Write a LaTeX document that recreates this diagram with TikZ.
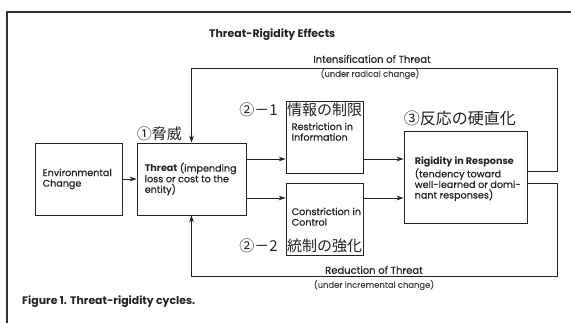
\documentclass[tikz,border=0pt]{standalone}
\usepackage{fontspec}
\setmainfont{Poppins}[UprightFeatures={FakeBold=0.6}]
\newfontfamily\jp{Noto Sans CJK JP}
\usetikzlibrary{arrows.meta,positioning}
\definecolor{inkc}{HTML}{222222}
\definecolor{subc}{HTML}{444444}
\definecolor{framec}{HTML}{333333}
\tikzset{
  ar/.style={-{Stealth[length=2.5mm,width=1.7mm]},line width=0.9pt,inkc},
  box/.style={draw=inkc,line width=0.9pt,inner sep=0pt},
  txt/.style={inkc,font=\fontsize{9.6}{10.6}\selectfont,align=left,inner sep=0pt},
  hd/.style={inkc,font=\bfseries\fontsize{10.9}{11}\selectfont,inner sep=0pt,anchor=west},
  jtxt/.style={inkc,font=\jp\fontsize{15}{15}\selectfont,inner sep=0pt},
  lbl/.style={inkc,font=\fontsize{10}{10}\selectfont,inner sep=0pt},
  sub/.style={subc,font=\fontsize{8.4}{9}\selectfont,inner sep=0pt}
}
\begin{document}
\begin{tikzpicture}[x=1pt,y=-1pt]
\useasboundingbox (0,0) rectangle (571,323);
\draw[line width=2.6pt,framec] (7,323)--(7,12)--(571,12);
\node[hd] (title) at (209,35) {Threat-Rigidity Effects};
% boxes
\node[box,minimum width=87pt,minimum height=72pt] (env) at (78.5,179) {};
\node[box,minimum width=109pt,minimum height=72pt] (threat) at (191.5,179) {};
\node[box,minimum width=77pt,minimum height=72pt] (info) at (324.5,137) {};
\node[box,minimum width=77pt,minimum height=72pt] (ctrl) at (324.5,219) {};
\node[box,minimum width=123pt,minimum height=92pt] (rig) at (465.5,177) {};
% box texts
\node[txt,anchor=west] (envt) at ([xshift=8pt]env.west) {Environmental\\Change};
\node[txt,anchor=west] (threatt) at ([xshift=8pt]threat.west) {\textbf{Threat} (impending\\loss or cost to the\\entity)};
\node[jtxt,anchor=north] (infoj) at ([yshift=-2pt]info.north) {情報の制限};
\node[txt,anchor=north west] (infot) at ([xshift=6pt,yshift=-22pt]info.north west) {Restriction in\\Information};
\node[jtxt,anchor=south] (ctrlj) at ([yshift=2pt]ctrl.south) {統制の強化};
\node[txt,anchor=north west] (ctrlt) at ([xshift=6pt,yshift=-25pt]ctrl.north west) {Constriction in\\Control};
\node[txt,anchor=west] (rigt) at ([xshift=11pt,yshift=-2pt]rig.west) {\textbf{Rigidity in Response}\\(tendency toward\\well-learned or domi-\\nant responses)};
% japanese labels
\node[jtxt,anchor=south west] (threatj) at ([yshift=2pt]threat.north west) {①脅威};
\node[jtxt,anchor=east] (infon) at ([xshift=-9pt]infoj.west) {②－1};
\node[jtxt,anchor=east] (ctrln) at ([xshift=-9pt]ctrlj.west) {②－2};
\node[jtxt,font=\jp\fontsize{16}{16}\selectfont,anchor=south west] (rigj) at ([yshift=4pt]rig.north west) {③反応の硬直化};
% arrows
\draw[ar] (env) -- (threat);
\draw[ar] ([yshift=20pt]threat.east) -- ([yshift=20pt]threat.east -| info.west);
\draw[ar] ([yshift=-19pt]threat.east) -- ([yshift=-19pt]threat.east -| ctrl.west);
\draw[ar] ([yshift=20pt]threat.east -| info.east) -- ([yshift=20pt]threat.east -| rig.west);
\draw[ar] ([yshift=-19pt]threat.east -| ctrl.east) -- ([yshift=-19pt]threat.east -| rig.west);
% cycles
\coordinate (tr) at (557,68);
\coordinate (br) at (557,276);
\draw[ar] ([yshift=6pt]rig.east) -| (tr) -| (threat.north);
\draw[ar] ([yshift=-6pt]rig.east) -| (br) -| (threat.south);
\node[lbl] (intl) at (372,59) {Intensification of Threat};
\node[sub] (ints) at (370,74) {(under radical change)};
\node[lbl] (redl) at (374,270) {Reduction of Threat};
\node[sub] (reds) at (374,285) {(under incremental change)};
\node[hd] (cap) at (22,302) {Figure 1. Threat-rigidity cycles.};
\end{tikzpicture}
\end{document}
